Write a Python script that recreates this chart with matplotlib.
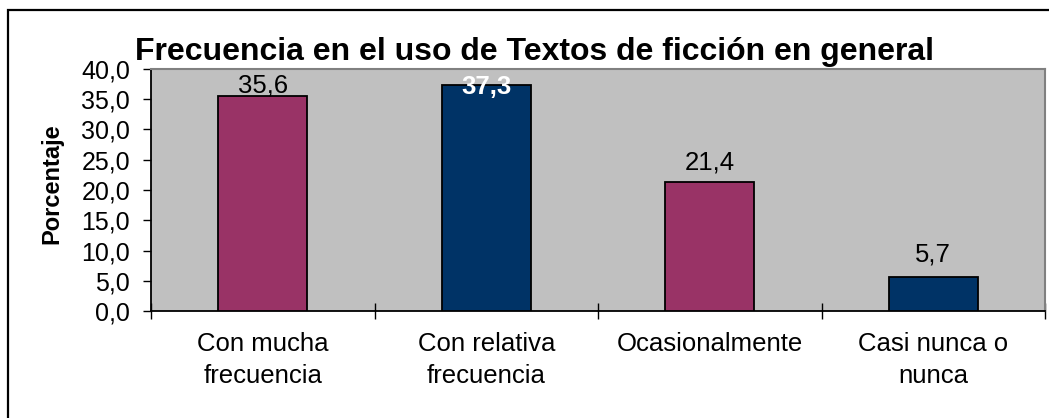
import matplotlib.pyplot as plt
import matplotlib.patches as patches
import numpy as np

categories = ["Con mucha\nfrecuencia", "Con relativa\nfrecuencia", "Ocasionalmente", "Casi nunca o\nnunca"]
values = [35.6, 37.3, 21.4, 5.7]
value_labels = ["35,6", "37,3", "21,4", "5,7"]
y_ticks = [0, 5, 10, 15, 20, 25, 30, 35, 40]
y_tick_labels = ["0,0", "5,0", "10,0", "15,0", "20,0", "25,0", "30,0", "35,0", "40,0"]

title = "Frecuencia en el uso de Textos de ficción en general"
y_title = "Porcentaje"

colors = ["#993366", "#003366", "#993366", "#003366"]
label_colors = ["black", "white", "black", "black"]
label_weights = ["normal", "bold", "normal", "normal"]
label_offsets = [2, -6, 9, 11]  # points above bar top

W, H = 1049, 418
plt.rcParams['font.family'] = ['Liberation Sans', 'DejaVu Sans']

fig = plt.figure(figsize=(W / 100, H / 100), dpi=100)
ax = fig.add_axes([151 / W, (H - 311) / H, 894 / W, 242 / H])
ax.set_facecolor("#C0C0C0")

x = np.arange(len(values))
ax.bar(x, values, width=0.4, color=colors, edgecolor="black", linewidth=1.3, zorder=3)

for i, v in enumerate(values):
    ax.annotate(value_labels[i], (x[i], v), xytext=(0, label_offsets[i]),
                textcoords="offset points", ha="center", va="baseline",
                fontsize=18.5, color=label_colors[i], fontweight=label_weights[i], zorder=4)

ax.set_xlim(-0.5, len(values) - 0.5)
ax.set_ylim(0, 40)

ax.set_yticks(y_ticks)
ax.set_yticklabels(y_tick_labels, fontsize=18)
ax.tick_params(axis="y", direction="out", length=6, width=1, pad=9)

ax.set_xticks(x)
ax.set_xticklabels(categories, fontsize=18.5, linespacing=1.45)
ax.tick_params(axis="x", which="major", length=0, pad=15)
ax.set_xticks(np.arange(len(values) + 1) - 0.5, minor=True)
ax.tick_params(axis="x", which="minor", direction="inout", length=11, width=1)

for s in ["top", "right"]:
    ax.spines[s].set_color("#808080")
    ax.spines[s].set_linewidth(1.5)
for s in ["left", "bottom"]:
    ax.spines[s].set_color("black")
    ax.spines[s].set_linewidth(1.3)

fig.text(534.5 / W, 1 - 60 / H, title, ha="center", va="baseline",
         fontsize=23, fontweight="bold")
fig.text(52 / W, 1 - 183.5 / H, y_title, ha="center", va="center",
         rotation=90, fontsize=17, fontweight="bold")

border = patches.Rectangle((8 / W, -0.1), 1.2, 1.1 - 10 / H, transform=fig.transFigure,
                           fill=False, edgecolor="black", linewidth=1.6)
fig.patches.append(border)

fig.savefig("out.png", dpi=100)
